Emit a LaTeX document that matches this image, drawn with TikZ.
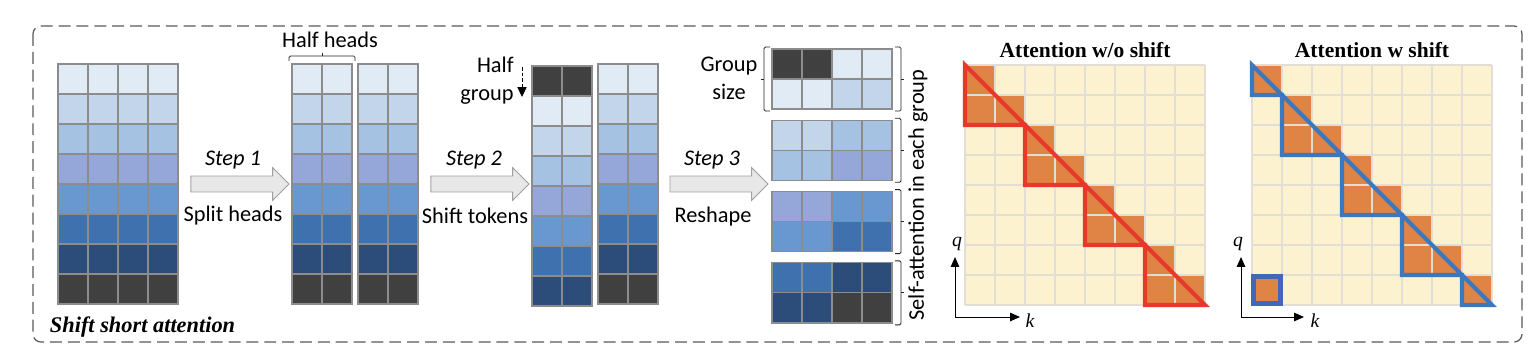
\documentclass[tikz,border=0pt]{standalone}
\usepackage{fontspec}
\setmainfont{Liberation Serif}
\setsansfont{Carlito}
\usepackage{tikz}
\usetikzlibrary{arrows.meta}
\usetikzlibrary{shapes.arrows,positioning}
\definecolor{tokA}{HTML}{E1EBF6}
\definecolor{tokB}{HTML}{C2D5EB}
\definecolor{tokC}{HTML}{A6C2E2}
\definecolor{tokD}{HTML}{95A7D8}
\definecolor{tokE}{HTML}{6898CF}
\definecolor{tokF}{HTML}{3F71AF}
\definecolor{tokG}{HTML}{2C4D7A}
\definecolor{tokH}{HTML}{404040}
\definecolor{cellgray}{HTML}{8C8C8C}
\definecolor{attbg}{HTML}{FDF2D0}
\definecolor{attline}{HTML}{E2DED6}
\definecolor{attorange}{HTML}{DF8445}
\definecolor{maskred}{HTML}{E8382A}
\definecolor{maskblue}{HTML}{3A78C0}
\tikzset{
    cell/.style={draw=cellgray, line width=0.85pt},
    % grey block arrow between the stages
    blockarrow/.style={
        single arrow, draw=gray!75, fill=gray!18, line width=0.7pt,
        minimum height=2.45cm, inner xsep=0pt, inner ysep=0.1875cm,
        single arrow head extend=0.21cm
    },
    steptext/.style={font=\sffamily\fontsize{15.9}{20}\selectfont, text=black},
    bracket/.style={line width=0.6pt, black!85, rounded corners=1pt},
    masked/.style={line width=2.9pt, line join=miter},
    axis/.style={line width=0.7pt, -{Triangle[length=7pt, width=6pt]}},
    frame/.style={draw=black!65, line width=0.9pt, dash pattern=on 8.5pt off 4.2pt,
        rounded corners=0.2cm}
}
\begin{document}
\begin{tikzpicture}[x=0.025cm, y=-0.025cm]
	\useasboundingbox (0,0) rectangle (1536,360);
	\draw[frame] (33,26) rectangle (1522,342);

	% input tokens
	\foreach \col [count=\i from 0] in {tokA,tokB,tokC,tokD,tokE,tokF,tokG,tokH}{
		\foreach \j in {0,...,3}
			\draw[cell, fill=\col] (58+30*\j,64+30*\i) rectangle ++(30,30);
	}
	\node[steptext, anchor=base west] (title) at (45,332) {\rmfamily\bfseries\itshape\fontsize{15.9}{18}\selectfont Shift short attention};

	\node[blockarrow] (step1) at (236,184) {};
	\node[steptext] (step1top) at (233,160) {\itshape Step 1};
	\node[steptext] (step1bot) at (233,216) {Split heads};

	% split heads
	\foreach \col [count=\i from 0] in {tokA,tokB,tokC,tokD,tokE,tokF,tokG,tokH}{
		\foreach \x in {292,322,358,388}
			\draw[cell, fill=\col] (\x,64+30*\i) rectangle ++(30,30);
	}
	\draw[bracket] (289,61) -- (289,56) -- (355,56) -- (355,61);
	\draw[bracket, rounded corners=0pt] (322,56) -- (322,53);
	\node[steptext] (halfheads) at (330,40) {Half heads};

	\node[blockarrow] (step2) at (476,184) {};
	\node[steptext] (step2top) at (474,160) {\itshape Step 2};
	\node[steptext] (step2bot) at (475,216) {Shift tokens};

	% shifted half and plain half
	\foreach \col [count=\i from 0] in {tokH,tokA,tokB,tokC,tokD,tokE,tokF,tokG}{
		\foreach \x in {532,562}
			\draw[cell, fill=\col] (\x,66+30*\i) rectangle ++(30,30);
	}
	\foreach \col [count=\i from 0] in {tokA,tokB,tokC,tokD,tokE,tokF,tokG,tokH}{
		\foreach \x in {598,628}
			\draw[cell, fill=\col] (\x,64+30*\i) rectangle ++(30,30);
	}
	\node[steptext, align=right] (halfgroup) at (487,81) {Half\\group};
	\coordinate (hgtop) at (522,67);
	\coordinate (hgtip) at (522,97);
	\draw[line width=0.6pt, dash pattern=on 2.5pt off 1.5pt, -{Triangle[length=7pt, width=6.5pt]}] (hgtop) -- (hgtip);

	\node[blockarrow] (step3) at (715,184) {};
	\node[steptext] (step3top) at (712,160) {\itshape Step 3};
	\node[steptext] (step3bot) at (713,217) {Reshape};

	% groups
	\foreach \a/\b/\cc/\d [count=\g from 0] in {tokH/tokA/tokA/tokB, tokB/tokC/tokC/tokD, tokD/tokE/tokE/tokF, tokF/tokG/tokG/tokH}{
		\foreach \x in {772,802}{
			\draw[cell, fill=\a] (\x,49+71.3*\g) rectangle ++(30,30);
			\draw[cell, fill=\b] (\x,79+71.3*\g) rectangle ++(30,30);
		}
		\foreach \x in {832,862}{
			\draw[cell, fill=\cc] (\x,49+71.3*\g) rectangle ++(30,30);
			\draw[cell, fill=\d] (\x,79+71.3*\g) rectangle ++(30,30);
		}
		\draw[bracket] (895,47+71.3*\g) -- (901,47+71.3*\g) -- (901,111+71.3*\g) -- (895,111+71.3*\g);
		\draw[bracket, rounded corners=0pt] (901,79+71.3*\g) -- (904,79+71.3*\g);
	}
	\draw[bracket] (770,47) -- (764,47) -- (764,111) -- (770,111);
	\draw[bracket, rounded corners=0pt] (764,79) -- (761,79);
	\node[steptext, align=center] (groupsize) at (729,78) {Group\\size};
	\node[steptext, rotate=90] (selfatt) at (918,195) {Self-attention in each group};

	% attention without shift
	\fill[attbg] (965,65) rectangle (1205,305);
	\foreach \r/\k in {1/1,2/1,2/2,3/3,4/3,4/4,5/5,6/5,6/6,7/7,8/7,8/8}
		\fill[attorange] (935+30*\k,35+30*\r) rectangle ++(30,30);
	\foreach \j in {0,...,8}{
		\draw[attline, line width=0.8pt] (965+30*\j,65) -- (965+30*\j,305);
		\draw[attline, line width=0.8pt] (965,65+30*\j) -- (1205,65+30*\j);
	}
	\draw[masked, maskred] (965,65) -- (965,125) -- (1025,125) -- (1025,185) -- (1085,185)
		-- (1085,245) -- (1145,245) -- (1145,305) -- (1205,305) -- cycle;
	\node[font=\bfseries\fontsize{15.3}{18}\selectfont] (titleA) at (1085,50) {Attention w/o shift};
	\coordinate (oA) at (955,317);
	\coordinate (qA) at (955,257);
	\coordinate (kA) at (1020,317);
	\draw[axis] (oA) -- (qA);
	\draw[axis] (oA) -- (kA);
	\node[font=\itshape\fontsize{14}{16}\selectfont] (qlabA) at (957,244) {q};
	\node[font=\itshape\fontsize{14}{16}\selectfont] (klabA) at (1030,321) {k};

	% attention with shift
	\fill[attbg] (1252,65) rectangle (1492,305);
	\foreach \r/\k in {1/1,2/2,3/2,3/3,4/4,5/4,5/5,6/6,7/6,7/7,8/8,8/1}
		\fill[attorange] (1222+30*\k,35+30*\r) rectangle ++(30,30);
	\foreach \j in {0,...,8}{
		\draw[attline, line width=0.8pt] (1252+30*\j,65) -- (1252+30*\j,305);
		\draw[attline, line width=0.8pt] (1252,65+30*\j) -- (1492,65+30*\j);
	}
	\draw[masked, maskblue] (1252,65) -- (1252,95) -- (1282,95) -- (1282,155) -- (1342,155)
		-- (1342,215) -- (1402,215) -- (1402,275) -- (1462,275) -- (1462,305) -- (1492,305) -- cycle;
	\draw[masked, maskblue!85!violet] (1253.5,276.5) rectangle (1280.5,303.5);
	\node[font=\bfseries\fontsize{15.3}{18}\selectfont] (titleB) at (1372,50) {Attention w shift};
	\coordinate (oB) at (1241,317);
	\coordinate (qB) at (1241,257);
	\coordinate (kB) at (1304,317);
	\draw[axis] (oB) -- (qB);
	\draw[axis] (oB) -- (kB);
	\node[font=\itshape\fontsize{14}{16}\selectfont] (qlabB) at (1238,244) {q};
	\node[font=\itshape\fontsize{14}{16}\selectfont] (klabB) at (1315,321) {k};
\end{tikzpicture}
\end{document}
